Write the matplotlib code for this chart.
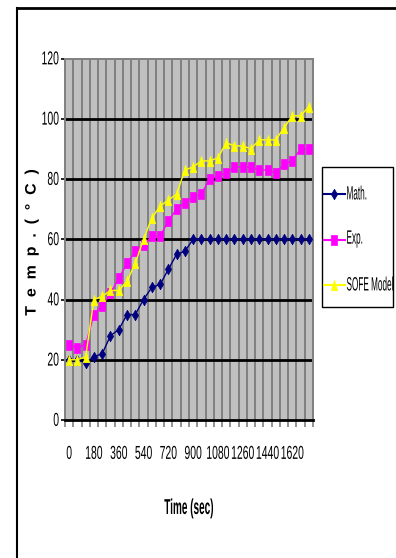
import matplotlib
matplotlib.use("Agg")
import matplotlib.pyplot as plt
from matplotlib.lines import Line2D
from matplotlib.patches import Rectangle
from matplotlib.text import Text
from matplotlib.patheffects import AbstractPathEffect
from matplotlib.transforms import Affine2D, offset_copy
from matplotlib.font_manager import FontProperties

# Time samples (s) and temperature series (°C)
time_sec = list(range(0, 1800, 60))
math_temp = [20, 20, 19, 21, 22, 28, 30, 35, 35, 40,
             44, 45, 50, 55, 56, 60, 60, 60, 60, 60,
             60, 60, 60, 60, 60, 60, 60, 60, 60, 60]
exp_temp = [25, 24, 25, 35, 38, 42, 47, 52, 56, 58,
            61, 61, 66, 70, 72, 74, 75, 80, 81, 82,
            84, 84, 84, 83, 83, 82, 85, 86, 90, 90]
sofe_temp = [20, 20, 21, 40, 41, 43, 43, 46, 52, 60,
             67, 71, 73, 75, 83, 84, 86, 86, 87, 92,
             91, 91, 90, 93, 93, 93, 97, 101, 101, 104]
series_names = ["Math.", "Exp.", "SOFE Model"]
y_ticks = [0, 20, 40, 60, 80, 100, 120]


class Stretch(AbstractPathEffect):
    """Scale glyph outlines across the text line (tall, narrow lettering)."""

    def __init__(self, sy=1.0):
        super().__init__()
        self.sy = sy

    def draw_path(self, renderer, gc, tpath, affine, rgbFace=None):
        ext = tpath.get_extents()
        cy = (ext.y0 + ext.y1) / 2
        t = Affine2D().translate(0, -cy).scale(1.0, self.sy).translate(0, cy) + affine
        renderer.draw_path(gc, tpath, t, rgbFace)


def label(x, y, s, size, sy, bold=False, **kw):
    t = Text(x, y, s, fontproperties=FontProperties(
        family=["Liberation Sans", "DejaVu Sans"], size=size,
        weight="bold" if bold else "normal"), **kw)
    t.set_path_effects([Stretch(sy)])
    fig.add_artist(t)
    return t


# slim marker outlines
DIAMOND = [(0, -0.5), (0.3, 0), (0, 0.5), (-0.3, 0), (0, -0.5)]
BOX = [(-0.32, -0.5), (0.32, -0.5), (0.32, 0.5), (-0.32, 0.5), (-0.32, -0.5)]
TRIANGLE = [(-0.3, -0.5), (0.3, -0.5), (0, 0.5), (-0.3, -0.5)]

styles = [
    dict(color="#000080", marker=DIAMOND),
    dict(color="#FF00FF", marker=BOX),
    dict(color="#FFFF00", marker=TRIANGLE),
]

W, H = 396, 558
fig = plt.figure(figsize=(W / 100, H / 100), dpi=100)
fig.patch.set_facecolor("white")

ax = fig.add_axes([65 / W, 1 - 420 / H, (313 - 65) / W, (420 - 58.5) / H])
ax.set_facecolor("#C0C0C0")

idx = list(range(len(time_sec)))
ax.set_xlim(-0.5, len(time_sec) - 0.5)
ax.set_ylim(0, 120)

# category boundaries as vertical grid
for b in range(len(time_sec) + 1):
    ax.axvline(b - 0.5, color="#808080", lw=1.4, zorder=1)
for yv in y_ticks[1:-1]:
    ax.axhline(yv, color="black", lw=2.0, zorder=1.5)

for vals, name, st, z in zip([math_temp, exp_temp, sofe_temp], series_names, styles, [3, 3, 4]):
    ax.plot(idx, vals, color=st["color"], lw=1.0, marker=st["marker"], ms=7.5,
            mec=st["color"], mfc=st["color"], mew=0.5, zorder=z, label=name)

for s in ["top", "right", "left"]:
    ax.spines[s].set_color("#808080")
    ax.spines[s].set_linewidth(1.4)
ax.spines["bottom"].set_color("black")
ax.spines["bottom"].set_linewidth(2.0)
ax.spines["bottom"].set_zorder(5)

ax.set_yticks(y_ticks)
ax.tick_params(axis="y", length=3, width=1.2, color="black", labelleft=False)
ax.set_xticks([b - 0.5 for b in range(len(time_sec) + 1)], minor=True)
ax.set_xticks(idx[::3])
ax.tick_params(axis="x", which="major", length=0, labelbottom=False)
ax.tick_params(axis="x", which="minor", length=5, width=1.2, color="#808080")

# tick labels in tall, narrow lettering
ytrans = offset_copy(ax.get_yaxis_transform(), x=-6, y=0, units="dots")
for v in y_ticks:
    label(0, v, str(v), 7.5, 1.8, transform=ytrans, ha="right", va="center")
xtrans = offset_copy(ax.get_xaxis_transform(), x=0, y=-33, units="dots")
for i in idx[::3]:
    label(i, 0, str(time_sec[i]), 7.5, 1.8, transform=xtrans, ha="center", va="center")

xl_trans = offset_copy(ax.transAxes, x=0, y=-88, units="dots")
label(0.5, 0, "Time (sec)", 7.2, 2.15, bold=True, transform=xl_trans, ha="center", va="center")
label(31 / W, 1 - 242 / H, "  ".join("Temp.(°C)"), 11.5, 0.95, bold=True, rotation=90,
      transform=fig.transFigure, ha="center", va="center")

# legend box
fig.add_artist(Rectangle((322 / W, 1 - 307 / H), (393 - 322) / W, (307 - 167) / H,
                         transform=fig.transFigure, facecolor="white", edgecolor="black",
                         lw=1.0, zorder=6))
for k, (name, st) in enumerate(zip(series_names, styles)):
    yy = 1 - (194 + 45.5 * k) / H
    fig.add_artist(Line2D([324 / W, 345 / W], [yy, yy], color=st["color"], lw=1.5,
                          transform=fig.transFigure, zorder=7))
    fig.add_artist(Line2D([334 / W], [yy], color=st["color"], marker=st["marker"], ms=7.5,
                          mec=st["color"], mfc=st["color"], mew=0.5, lw=0,
                          transform=fig.transFigure, zorder=7))
    label(346.5 / W, yy, name, 5.9, 2.35, transform=fig.transFigure,
          ha="left", va="center", zorder=8)

# outer chart frame
fig.add_artist(Line2D([17 / W, 1], [1 - 8 / H, 1 - 8 / H], color="black", lw=2.0,
                      transform=fig.transFigure))
fig.add_artist(Line2D([17 / W, 17 / W], [1 - 8 / H, 0], color="black", lw=1.5,
                      transform=fig.transFigure))

fig.savefig("out.png", dpi=100)
